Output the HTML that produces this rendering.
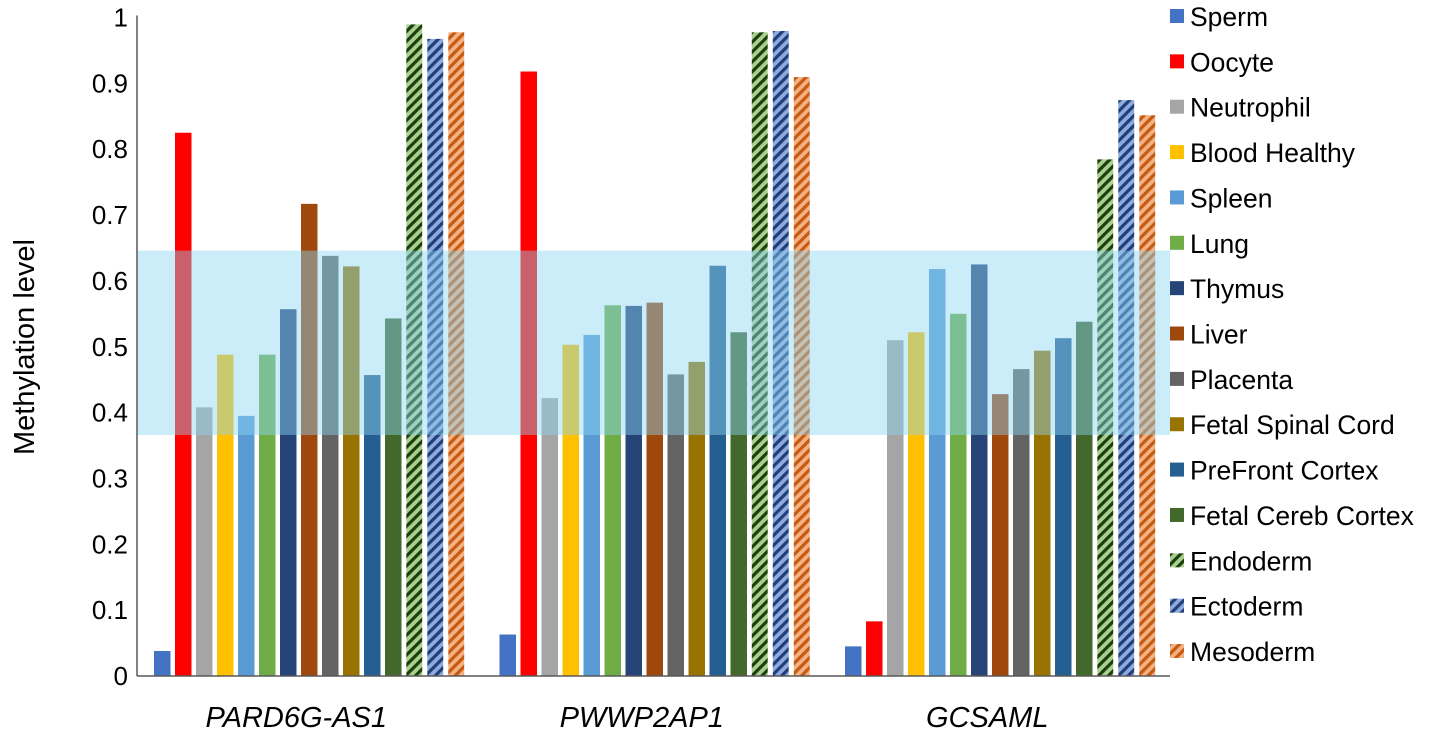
<!DOCTYPE html>
<html><head><meta charset="utf-8"><style>
body{margin:0;background:#fff;}
svg{display:block;font-family:"Liberation Sans",Arial,sans-serif;}
</style></head><body>
<svg id="chart" width="1430" height="733">
<defs>
<pattern id="h-endo" patternUnits="userSpaceOnUse" width="7" height="7" patternTransform="rotate(45)"><rect width="7" height="7" fill="#a9d18e"/><rect width="3.2" height="7" fill="#1e3d0f"/></pattern>
<pattern id="h-ecto" patternUnits="userSpaceOnUse" width="7" height="7" patternTransform="rotate(45)"><rect width="7" height="7" fill="#8faadc"/><rect width="3.2" height="7" fill="#1f3f7a"/></pattern>
<pattern id="h-meso" patternUnits="userSpaceOnUse" width="7" height="7" patternTransform="rotate(45)"><rect width="7" height="7" fill="#f4b183"/><rect width="3.2" height="7" fill="#c55a11"/></pattern>
</defs>
<g id="bars"></g>
<g id="axes"></g>
<g id="legend"></g>
</svg>
<script>
const genes = ["PARD6G-AS1","PWWP2AP1","GCSAML"];
const tissues = ["Sperm","Oocyte","Neutrophil","Blood Healthy","Spleen","Lung","Thymus","Liver","Placenta","Fetal Spinal Cord","PreFront Cortex","Fetal Cereb Cortex","Endoderm","Ectoderm","Mesoderm"];
const valsPARD6G = [0.038,0.825,0.408,0.488,0.395,0.488,0.557,0.717,0.638,0.622,0.457,0.543,0.99,0.968,0.978];
const valsPWWP2AP1 = [0.063,0.918,0.422,0.503,0.518,0.563,0.562,0.567,0.458,0.477,0.623,0.522,0.978,0.98,0.91];
const valsGCSAML = [0.045,0.083,0.51,0.522,0.618,0.55,0.625,0.428,0.466,0.494,0.513,0.538,0.785,0.875,0.852];
const yTicks = [0,0.1,0.2,0.3,0.4,0.5,0.6,0.7,0.8,0.9,1];
const bandLow = 0.366, bandHigh = 0.646;
const colors = ["#4472c4","#ff0000","#a5a5a5","#ffc000","#5b9bd5","#70ad47","#264478","#9e480e","#636363","#997300","#255e91","#43682b","url(#h-endo)","url(#h-ecto)","url(#h-meso)"];
const allVals=[valsPARD6G,valsPWWP2AP1,valsGCSAML];
const NS="http://www.w3.org/2000/svg";
const y0=676,y1=17.5,xAxis0=137,xAxis1=1170;
const yS=v=>y0-(y0-y1)*v;
const gx=(g,i)=>154+g*345.5+i*21;
const bw=16.5;
function mk(t,a,p){const e=document.createElementNS(NS,t);for(const k in a)e.setAttribute(k,a[k]);p.appendChild(e);return e;}
const bars=document.getElementById('bars');
allVals.forEach((vals,g)=>{vals.forEach((v,i)=>{
 const r=mk('rect',{x:gx(g,i),y:yS(v),width:bw,height:y0-yS(v),fill:colors[i],stroke:i>=12?"#fff":"none","stroke-width":0.6},bars);
 
 
});});
const band=mk('rect',{x:xAxis0,y:yS(bandHigh),width:xAxis1-xAxis0,height:yS(bandLow)-yS(bandHigh),fill:"rgba(140,212,242,0.45)"},bars);


const axes=document.getElementById('axes');
const ya=mk('line',{x1:xAxis0,y1:y1-2,x2:xAxis0,y2:y0,stroke:"#595959","stroke-width":1.5},axes);

const xa=mk('line',{x1:xAxis0,y1:y0,x2:xAxis1,y2:y0,stroke:"#595959","stroke-width":1.5},axes);

yTicks.forEach(t=>{const e=mk('text',{x:128,y:yS(t)+9,"text-anchor":"end","font-size":26,fill:"#000"},axes);e.textContent=String(t);
 });
genes.forEach((gname,g)=>{const e=mk('text',{x:gx(g,7)+bw/2-13,y:727,"text-anchor":"middle","font-size":29,"font-style":"italic",fill:"#000"},axes);e.textContent=gname;
 });
const yt=mk('text',{x:0,y:0,transform:"translate(34,347) rotate(-90)","text-anchor":"middle","font-size":29,fill:"#000"},axes);yt.textContent="Methylation level";

const lg=document.getElementById('legend');
tissues.forEach((t,i)=>{const yy=17+i*45.36;
 const gr=mk('g',{},lg);
 
 mk('rect',{x:1170,y:yy-8,width:14,height:14,fill:colors[i]},gr);
 const tx=mk('text',{x:1190,y:yy+9,"font-size":26.5,fill:"#000"},gr);tx.textContent=t;
});
</script>
</body></html>
